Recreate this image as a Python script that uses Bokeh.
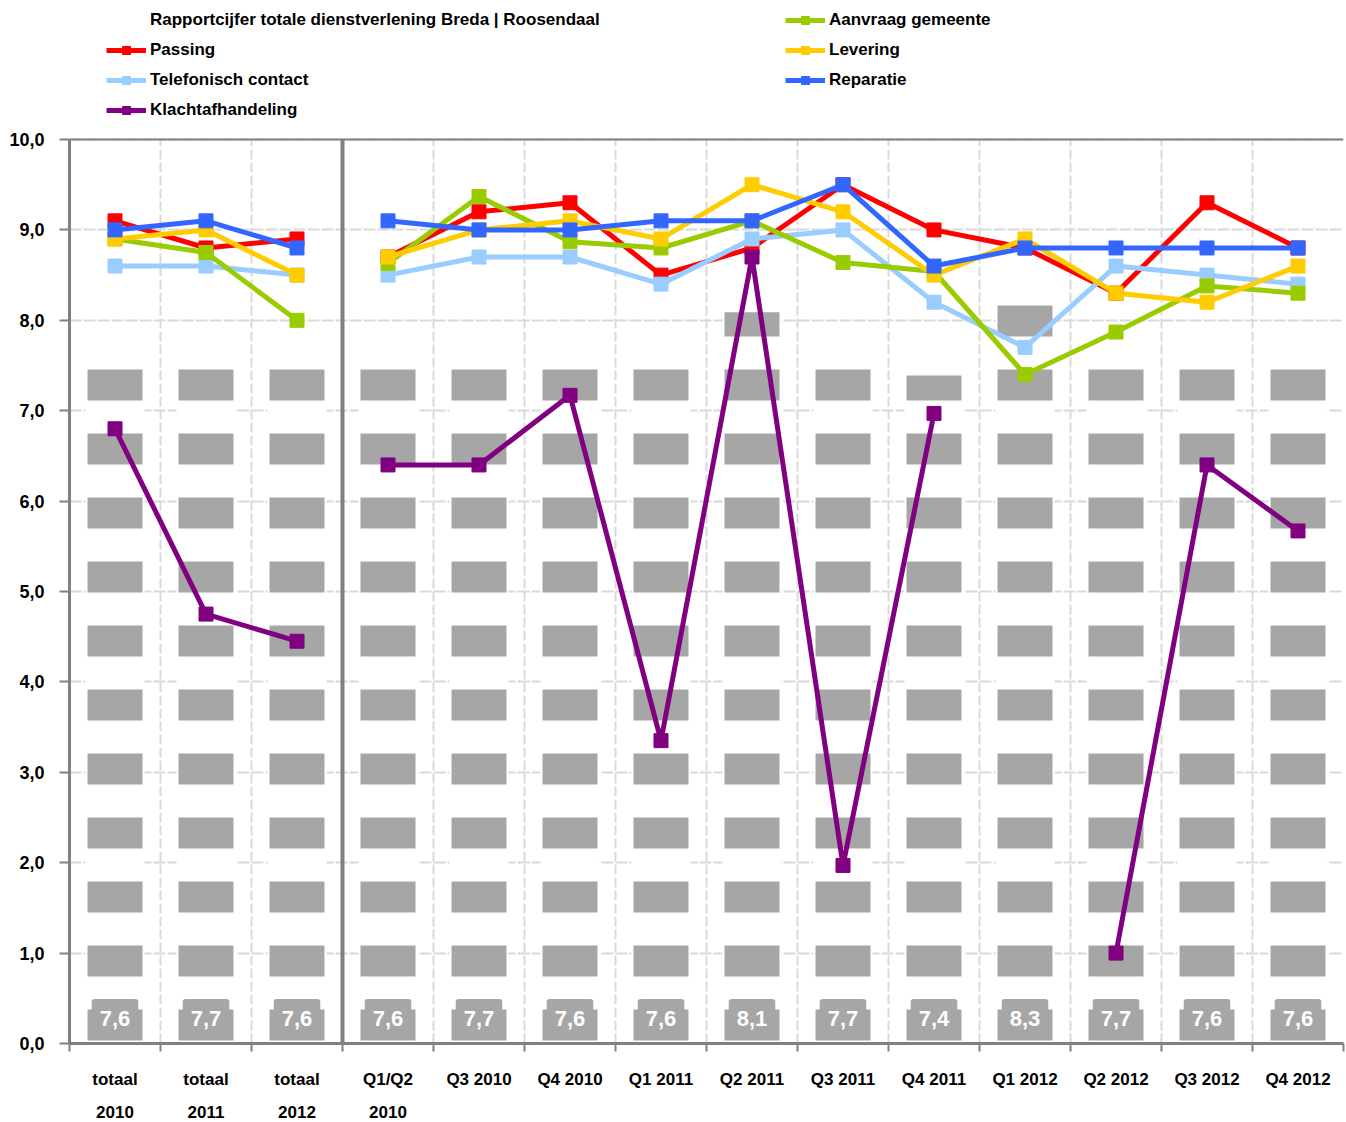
import numpy as np
from bokeh.plotting import figure
from bokeh.models import (ColumnDataSource, FixedTicker, Span, Legend, LegendItem, Range1d)
from bokeh.embed import file_html
from bokeh.resources import INLINE
from bokeh.core.properties import value

# ---------------- data ----------------
categories = ["totaal\n2010", "totaal\n2011", "totaal\n2012", "Q1/Q2\n2010",
              "Q3 2010", "Q4 2010", "Q1 2011", "Q2 2011", "Q3 2011", "Q4 2011",
              "Q1 2012", "Q2 2012", "Q3 2012", "Q4 2012"]
n_totals = 3
rapportcijfer = [7.6, 7.7, 7.6, 7.6, 7.7, 7.6, 7.6, 8.1, 7.7, 7.4, 8.3, 7.7, 7.6, 7.6]
passing = [9.1, 8.8, 8.9, 8.7, 9.2, 9.3, 8.5, 8.8, 9.5, 9.0, 8.8, 8.3, 9.3, 8.8]
telefonisch = [8.6, 8.6, 8.5, 8.5, 8.7, 8.7, 8.4, 8.9, 9.0, 8.2, 7.7, 8.6, 8.5, 8.4]
klacht = [6.8, 4.75, 4.45, 6.4, 6.4, 7.17, 3.35, 8.7, 1.97, 6.97, np.nan, 1.0, 6.4, 5.67]
aanvraag = [8.9, 8.75, 8.0, 8.63, 9.37, 8.87, 8.8, 9.1, 8.64, 8.54, 7.4, 7.87, 8.38, 8.3]
levering = [8.9, 9.0, 8.5, 8.7, 9.0, 9.1, 8.9, 9.5, 9.2, 8.5, 8.9, 8.3, 8.2, 8.6]
reparatie = [9.0, 9.1, 8.8, 9.1, 9.0, 9.0, 9.1, 9.1, 9.5, 8.6, 8.8, 8.8, 8.8, 8.8]
y_ticks = [0, 1, 2, 3, 4, 5, 6, 7, 8, 9, 10]
y_max = 10

series = [
    ("Passing", passing, "#FF0000"),
    ("Telefonisch contact", telefonisch, "#99CCFF"),
    ("Klachtafhandeling", klacht, "#800080"),
    ("Aanvraag gemeente", aanvraag, "#99CC00"),
    ("Levering", levering, "#FFCC00"),
    ("Reparatie", reparatie, "#3366FF"),
]
bar_label = "Rapportcijfer totale dienstverlening Breda | Roosendaal"

# ---------------- style ----------------
FONT = "Liberation Sans"
GRAY_AXIS = "#808080"
GRID = "#D9D9D9"
BAR_GRAY = "#A6A6A6"

n = len(categories)
xs = np.arange(n) + 0.5
bounds = np.arange(n + 1)

CAT_PX = 91             # pixel width of one category
FRAME_W = CAT_PX * n
FRAME_H = 1043          # frame reaches the top of the page; legend lives inside it
PLOT_H = 904            # pixel height of the 0..10 value band
y_end = y_max * FRAME_H / PLOT_H
bar_width = 57 / CAT_PX

p = figure(width=1346, height=1122, frame_width=FRAME_W, frame_height=FRAME_H,
           min_border_left=69, min_border_right=1346 - 69 - FRAME_W, min_border_top=0,
           min_border_bottom=79, x_range=Range1d(0, n), y_range=Range1d(0, y_end),
           output_backend="svg", toolbar_location=None, tools="")
p.background_fill_color = "white"
p.border_fill_color = "white"
p.outline_line_color = None

# x axis: labels at centres, tick marks (minor) at boundaries
p.xaxis.ticker = FixedTicker(ticks=list(xs), minor_ticks=list(bounds))
p.xaxis.major_label_overrides = {float(x): c for x, c in zip(xs, categories)}
p.xaxis.major_tick_out = 0
p.xaxis.major_tick_in = 0
p.xaxis.minor_tick_out = 8
p.xaxis.minor_tick_in = 0
p.xaxis.minor_tick_line_color = GRAY_AXIS
p.xaxis.minor_tick_line_width = 2
p.xaxis.axis_line_color = GRAY_AXIS
p.xaxis.axis_line_width = 3
p.xaxis.major_label_standoff = 18
p.xaxis.major_label_text_font = FONT
p.xaxis.major_label_text_font_style = "bold"
p.xaxis.major_label_text_font_size = "17px"
p.xaxis.major_label_text_color = "black"
p.xaxis.major_label_text_line_height = 1.75

p.yaxis.ticker = FixedTicker(ticks=y_ticks, minor_ticks=[])
p.yaxis.bounds = (0, y_max)
p.yaxis.major_label_overrides = {t: f"{t:.1f}".replace(".", ",") for t in y_ticks}
p.yaxis.major_tick_out = 10
p.yaxis.major_tick_in = 0
p.yaxis.major_tick_line_color = GRAY_AXIS
p.yaxis.major_tick_line_width = 2
p.yaxis.axis_line_color = GRAY_AXIS
p.yaxis.axis_line_width = 3
p.yaxis.major_label_standoff = 15
p.yaxis.major_label_text_font = FONT
p.yaxis.major_label_text_font_style = "bold"
p.yaxis.major_label_text_font_size = "18px"
p.yaxis.major_label_text_color = "black"

p.xgrid.grid_line_color = None
p.ygrid.grid_line_color = GRID
p.ygrid.grid_line_width = 2
p.ygrid.grid_line_dash = "12 2"

# vertical grid lines at category boundaries (limited to the 0..10 band)
inner = [b for b in bounds[1:-1] if b != n_totals]
p.segment(x0=inner, y0=0, x1=inner, y1=y_max, line_color=GRID, line_width=2,
          line_dash="10 3", level="underlay")
# top border of the value band
p.add_layout(Span(location=y_max, dimension="width", line_color=GRAY_AXIS,
                  line_width=2))
# separator between totals and quarters
p.segment(x0=[n_totals], y0=0, x1=[n_totals], y1=y_max, line_color=GRAY_AXIS,
          line_width=4)

# ---------------- bars with stripe pattern ----------------
bar_src = ColumnDataSource(dict(
    x=xs, top=rapportcijfer,
    lbl=[f"{v:.1f}".replace(".", ",") for v in rapportcijfer],
))
p.vbar(x="x", top="top", width=bar_width, source=bar_src, fill_color=BAR_GRAY,
       line_color="white", line_width=2, hatch_pattern="horizontal_line",
       hatch_color="white", hatch_scale=64, hatch_weight=33, hatch_alpha=1.0)

p.text(x="x", y=0, text="lbl", source=bar_src, y_offset=-25,
       text_align="center", text_baseline="middle", text_color="white",
       text_font=value(FONT), text_font_style="bold", text_font_size="22px",
       background_fill_color=BAR_GRAY, padding=(8, 12), border_radius=3)

# ---------------- lines ----------------
legend_items = []
dummy = p.line(x=[], y=[], line_color=GRID, line_width=1)
legend_items.append(LegendItem(label=bar_label, renderers=[dummy]))
for name, vals, color in series:
    vals = np.array(vals, dtype=float)
    l1 = p.line(xs[:n_totals], vals[:n_totals], line_color=color, line_width=5)
    l2 = p.line(xs[n_totals:], vals[n_totals:], line_color=color, line_width=5)
    sc = p.scatter(xs, vals, marker="square", size=14, fill_color=color,
                   line_color=color)
    legend_items.append(LegendItem(label=name, renderers=[l1, sc]))

def make_legend(items, loc):
    return Legend(items=items, location=loc, orientation="vertical",
                  glyph_width=40, glyph_height=20, label_height=20, spacing=10,
                  padding=0, margin=0, label_standoff=4,
                  border_line_color=None, background_fill_alpha=0,
                  label_text_font=FONT, label_text_font_style="bold",
                  label_text_font_size="17px", label_text_color="black")

p.add_layout(make_legend(legend_items[:4], (37, 923)))
p.add_layout(make_legend(legend_items[4:], (716, 953)))

open("out.html", "w").write(file_html(p, INLINE))
